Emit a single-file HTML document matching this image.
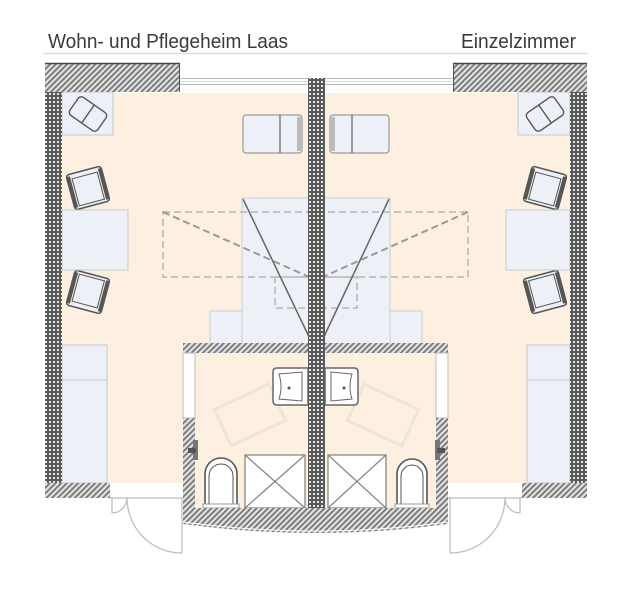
<!DOCTYPE html>
<html><head><meta charset="utf-8"><style>
html,body{margin:0;padding:0;background:#fff;}
svg{display:block;}
text{font-family:"Liberation Sans",sans-serif;fill:#3a3a3a;}
</style></head><body>
<svg width="643" height="600" viewBox="0 0 643 600" xmlns="http://www.w3.org/2000/svg">
<defs>
<pattern id="ck" width="4" height="4" patternUnits="userSpaceOnUse"><rect width="4" height="4" fill="#5a5a5a"/><rect x="1" y="1" width="2" height="2" fill="#e4e4e4"/></pattern>
<pattern id="ht" width="4" height="4" patternUnits="userSpaceOnUse" patternTransform="rotate(45)"><rect width="4" height="4" fill="#e2e2e2"/><rect width="1.8" height="4" fill="#757575"/></pattern>
</defs>
<rect width="643" height="600" fill="#fff"/>
<text x="48" y="48" font-size="20" textLength="240" lengthAdjust="spacingAndGlyphs">Wohn- und Pflegeheim Laas</text>
<text x="461" y="48" font-size="20" textLength="115" lengthAdjust="spacingAndGlyphs">Einzelzimmer</text>
<line x1="43" y1="53.5" x2="588" y2="53.5" stroke="#dcdcdc" stroke-width="1.2"/>

<!-- beige floors -->
<rect x="62" y="93" width="246" height="390" fill="#fdf0e0"/>
<rect x="325" y="93" width="245" height="390" fill="#fdf0e0"/>
<rect x="195" y="353" width="243" height="155" fill="#fdf0e0"/>

<!-- window -->
<g stroke="#bbb" stroke-width="1">
<line x1="180" y1="78.5" x2="308" y2="78.5"/><line x1="180" y1="84.5" x2="308" y2="84.5"/>
<line x1="325" y1="78.5" x2="453" y2="78.5"/><line x1="325" y1="84.5" x2="453" y2="84.5"/>
<line x1="180" y1="81.5" x2="308" y2="81.5" stroke="#ddd"/><line x1="325" y1="81.5" x2="453" y2="81.5" stroke="#ddd"/>
</g>

<!-- corner armchair boxes -->
<rect x="62" y="92" width="51" height="43" fill="#edf0f6" stroke="#c4c8d0"/>
<rect x="518" y="92" width="52" height="43" fill="#edf0f6" stroke="#c4c8d0"/>
<g transform="translate(88,114) rotate(35)" fill="#edf0f6" stroke="#555" stroke-width="1.4">
<rect x="-17" y="-11" width="34" height="22" rx="4"/><line x1="0" y1="-11" x2="0" y2="11"/></g>
<g transform="translate(545,114) rotate(-35)" fill="#edf0f6" stroke="#555" stroke-width="1.4">
<rect x="-17" y="-11" width="34" height="22" rx="4"/><line x1="0" y1="-11" x2="0" y2="11"/></g>

<!-- top chairs -->
<g fill="#edf0f6" stroke="#999" stroke-width="1.2">
<rect x="243" y="115" width="59" height="38" rx="3"/><line x1="280" y1="115" x2="280" y2="153" stroke="#666"/>
<rect x="330" y="115" width="59" height="38" rx="3"/><line x1="352" y1="115" x2="352" y2="153" stroke="#666"/>
</g>
<rect x="297" y="117" width="5" height="34" fill="#bbb"/>
<rect x="330" y="117" width="5" height="34" fill="#bbb"/>

<!-- armchairs -->
<g fill="#edf0f6" stroke="#555" stroke-width="1.5">
<g transform="translate(88,188) rotate(-15)"><rect x="-18" y="-18" width="36" height="36" rx="3"/><rect x="-13" y="-13" width="26" height="28" stroke-width="1"/><line x1="-16" y1="-16" x2="-16" y2="16" stroke-width="3"/><line x1="16" y1="-16" x2="16" y2="16" stroke-width="3"/></g>
<g transform="translate(88,292) rotate(15)"><rect x="-18" y="-18" width="36" height="36" rx="3"/><rect x="-13" y="-15" width="26" height="28" stroke-width="1"/><line x1="-16" y1="-16" x2="-16" y2="16" stroke-width="3"/><line x1="16" y1="-16" x2="16" y2="16" stroke-width="3"/></g>
<g transform="translate(545,188) rotate(15)"><rect x="-18" y="-18" width="36" height="36" rx="3"/><rect x="-13" y="-13" width="26" height="28" stroke-width="1"/><line x1="-16" y1="-16" x2="-16" y2="16" stroke-width="3"/><line x1="16" y1="-16" x2="16" y2="16" stroke-width="3"/></g>
<g transform="translate(545,292) rotate(-15)"><rect x="-18" y="-18" width="36" height="36" rx="3"/><rect x="-13" y="-15" width="26" height="28" stroke-width="1"/><line x1="-16" y1="-16" x2="-16" y2="16" stroke-width="3"/><line x1="16" y1="-16" x2="16" y2="16" stroke-width="3"/></g>
</g>
<!-- tables -->
<rect x="62" y="210" width="66" height="60" fill="#edf0f6" stroke="#c4c8d0"/>
<rect x="506" y="210" width="64" height="60" fill="#edf0f6" stroke="#c4c8d0"/>

<!-- bed & nightstands -->
<rect x="242" y="198" width="148" height="147" fill="#edf0f6" stroke="#c8ccd4"/>
<rect x="210" y="311" width="32" height="34" fill="#edf0f6" stroke="#c8ccd4"/>
<rect x="390" y="311" width="32" height="34" fill="#edf0f6" stroke="#c8ccd4"/>

<!-- dashed -->
<g fill="none" stroke="#c4c4c4" stroke-width="2" stroke-dasharray="7,4">
<rect x="163" y="212" width="305" height="65"/>
<rect x="275" y="277" width="82" height="31"/>
</g>
<g stroke="#999" stroke-width="2" stroke-dasharray="7,4">
<line x1="163" y1="212" x2="316" y2="280"/><line x1="468" y1="212" x2="316" y2="280"/>
</g>
<g stroke="#666" stroke-width="1.5">
<line x1="243" y1="199" x2="312" y2="343"/><line x1="389" y1="199" x2="321" y2="343"/>
</g>

<!-- wardrobes -->
<rect x="62" y="345" width="45" height="138" fill="#edf0f6" stroke="#c4c8d0"/>
<line x1="62" y1="380" x2="107" y2="380" stroke="#c4c8d0"/>
<rect x="527" y="345" width="43" height="138" fill="#edf0f6" stroke="#c4c8d0"/>
<line x1="527" y1="380" x2="570" y2="380" stroke="#c4c8d0"/>

<!-- outer walls -->
<rect x="45" y="63" width="135" height="29" fill="url(#ht)"/>
<line x1="45" y1="63.5" x2="180" y2="63.5" stroke="#444" stroke-width="1.5"/>
<line x1="179.5" y1="63" x2="179.5" y2="92" stroke="#555"/>
<rect x="453" y="63" width="134" height="29" fill="url(#ht)"/>
<line x1="453" y1="63.5" x2="587" y2="63.5" stroke="#444" stroke-width="1.5"/>
<line x1="453.5" y1="63" x2="453.5" y2="92" stroke="#555"/>
<rect x="45" y="92" width="17" height="391" fill="url(#ck)"/>
<rect x="570" y="92" width="17" height="391" fill="url(#ck)"/>
<rect x="45" y="483" width="65" height="15" fill="url(#ht)"/>
<rect x="522" y="483" width="65" height="15" fill="url(#ht)"/>

<!-- doors -->
<g fill="none" stroke="#bbb" stroke-width="1.2">
<line x1="110" y1="498" x2="183" y2="498"/>
<line x1="448" y1="498" x2="522" y2="498"/>
<line x1="112" y1="498" x2="112" y2="513"/>
<path d="M112,513 A15,15 0 0 0 127,498"/>
<line x1="182" y1="498" x2="182" y2="553"/>
<path d="M127,498 A55,55 0 0 0 182,553"/>
<line x1="520" y1="498" x2="520" y2="513"/>
<path d="M520,513 A15,15 0 0 1 505,498"/>
<line x1="450" y1="498" x2="450" y2="553"/>
<path d="M505,498 A55,55 0 0 1 450,553"/>
</g>

<!-- bathroom faint turning shapes -->
<g fill="none" stroke="#efe4d6" stroke-width="3">
<rect x="220" y="395" width="60" height="40" transform="rotate(-25 250 415)"/>
<rect x="353" y="395" width="60" height="40" transform="rotate(25 383 415)"/>
</g>

<!-- sinks -->
<g fill="#fff" stroke="#666" stroke-width="1.5">
<path d="M273,372 Q273,368 277,368 L308,368 L308,405 L277,405 Q273,405 273,401 Z"/>
<path d="M279,374 L302,372 L302,401 L279,399 Q283,387 279,374 Z" stroke-width="1"/>
<path d="M358,372 Q358,368 354,368 L325,368 L325,405 L354,405 Q358,405 358,401 Z"/>
<path d="M352,374 L331,372 L331,401 L352,399 Q348,387 352,374 Z" stroke-width="1"/>
</g>
<circle cx="289" cy="388" r="1.5" fill="#555"/><circle cx="344" cy="388" r="1.5" fill="#555"/>

<!-- showers -->
<g fill="#fff" stroke="#888" stroke-width="1.3">
<rect x="245" y="455" width="60" height="53"/>
<line x1="245" y1="455" x2="305" y2="508"/><line x1="305" y1="455" x2="245" y2="508"/>
<rect x="328" y="455" width="58" height="53"/>
<line x1="328" y1="455" x2="386" y2="508"/><line x1="386" y1="455" x2="328" y2="508"/>
</g>

<!-- toilets -->
<g fill="#fff" stroke="#555" stroke-width="1.6">
<path d="M205,507 V474 A16,16 0 0 1 237,474 V507"/>
<path d="M209,505 V476 A12,12 0 0 1 233,476 V505" stroke-width="1"/>
<path d="M397,507 V474 A15,15 0 0 1 427,474 V507"/>
<path d="M401,505 V476 A11,11 0 0 1 423,476 V505" stroke-width="1"/>
</g>
<rect x="203" y="504" width="36" height="4" fill="#fff" stroke="#999"/>
<rect x="395" y="504" width="34" height="4" fill="#fff" stroke="#999"/>

<!-- bathroom walls -->
<rect x="183" y="343" width="265" height="10" fill="url(#ht)"/>
<rect x="183" y="353" width="12" height="65" fill="#fff" stroke="#bbb"/>
<rect x="183" y="418" width="12" height="92" fill="url(#ht)"/>
<rect x="436" y="353" width="12" height="65" fill="#fff" stroke="#bbb"/>
<rect x="436" y="418" width="12" height="92" fill="url(#ht)"/>
<path d="M183,508 L448,508 L448,524 Q316,542 183,524 Z" fill="url(#ht)"/>
<path d="M183,522 Q316,540 448,522" fill="none" stroke="#fff" stroke-width="1"/>
<!-- grab bars -->
<rect x="193" y="440" width="5" height="20" fill="#777"/>
<rect x="435" y="440" width="5" height="20" fill="#777"/>
<rect x="188" y="448" width="8" height="5" fill="#555"/>
<rect x="437" y="448" width="8" height="5" fill="#555"/>

<!-- center wall -->
<rect x="308" y="78" width="17" height="430" fill="url(#ck)"/>
<rect x="308" y="508" width="17" height="20" fill="url(#ht)"/>
</svg>
</body></html>
